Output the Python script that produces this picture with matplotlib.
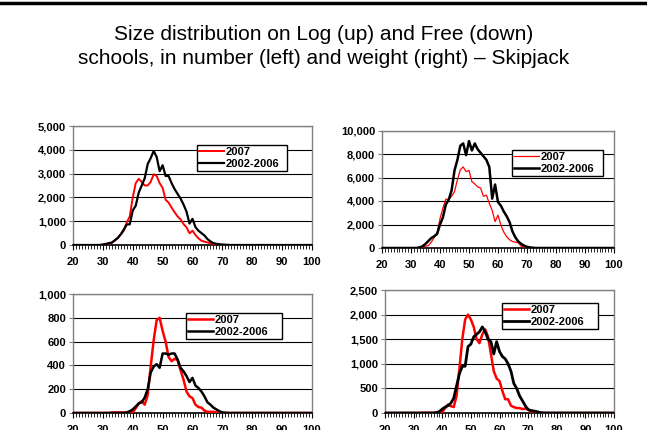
import numpy as np
import matplotlib.pyplot as plt
from matplotlib.ticker import MultipleLocator, FuncFormatter

plt.rcParams['font.family'] = ['Liberation Sans', 'DejaVu Sans']

# size classes (cm)
sizes = np.arange(20, 101)

# number, log schools (start size 30)
log_num_2007 = [20, 40, 60, 100, 180, 300, 450, 600, 950, 1200,
                2000, 2600, 2780, 2650, 2500, 2500, 2650, 2970, 2900, 2600,
                2400, 1900, 1780, 1570, 1380, 1200, 1080, 880, 740, 490,
                600, 420, 280, 180, 140, 110, 70, 40, 20, 10]
log_num_avg = [20, 40, 80, 100, 200, 300, 450, 650, 860, 870,
               1450, 1650, 2200, 2500, 2800, 3400, 3650, 3950, 3700, 3100,
               3350, 2900, 2900, 2600, 2350, 2150, 1950, 1700, 1400, 900,
               1100, 750, 600, 500, 400, 250, 150, 80, 50, 30,
               20, 10, 5]

# weight, log schools (start size 31)
log_wt_2007 = [20, 40, 60, 100, 150, 200, 500, 900, 1300,
               2500, 3400, 4150, 4150, 4400, 4800, 5800, 6650, 6900, 6500,
               6600, 5650, 5450, 5200, 5100, 4400, 4500, 3800, 3200, 2250,
               2800, 1950, 1350, 950, 700, 550, 500, 450, 150, 100,
               50]
log_wt_avg = [0, 0, 50, 150, 350, 600, 850, 1000, 1200,
              2000, 2600, 3700, 4100, 4900, 6600, 7500, 8700, 8900, 7900,
              9100, 8300, 8900, 8400, 8100, 7800, 7500, 6900, 4200, 5400,
              3900, 3600, 3100, 2700, 2200, 1400, 900, 550, 350, 200,
              100, 50, 20]

# number, free schools (start size 33)
free_num_2007 = [5, 5, 5, 5, 5, 5, 5,
                 5, 40, 80, 100, 70, 150, 390, 610, 780, 800,
                 690, 600, 470, 435, 455, 445, 360, 280, 180, 140,
                 125, 70, 50, 45, 20, 10, 10, 10, 5]
free_num_avg = [0, 0, 0, 0, 0, 5, 15,
                30, 55, 80, 90, 130, 200, 340, 390, 410, 380,
                500, 500, 490, 500, 500, 450, 380, 350, 310, 260,
                295, 230, 210, 180, 140, 90, 70, 45, 30, 15,
                5, 2]

# weight, free schools (start size 33)
free_wt_2007 = [5, 5, 5, 5, 5, 5, 5,
                20, 100, 170, 140, 120, 350, 900, 1500, 1900, 2000,
                1900, 1750, 1500, 1420, 1600, 1700, 1550, 1200, 850, 700,
                650, 450, 280, 280, 150, 120, 100, 100, 80, 90,
                70, 30, 15, 5]
free_wt_avg = [0, 0, 0, 0, 0, 10, 30,
               80, 120, 150, 200, 300, 550, 800, 950, 950, 1350,
               1400, 1550, 1600, 1650, 1750, 1650, 1500, 1450, 1200, 1450,
               1250, 1150, 1100, 1000, 850, 600, 500, 350, 250, 150,
               70, 50, 40, 30, 10, 5]


def full(vals, start):
    y = np.zeros(len(sizes))
    i = start - 20
    y[i:i + len(vals)] = vals
    return y


panels = [
    # rect in pixels (left, top, right, bottom), series, ymax, ystep, widths, legend box
    ((73, 126, 312, 245), (log_num_2007, 30), (log_num_avg, 30), 5000, 1000, (1.4, 1.6), (197, 143, 287, 171)),
    ((382, 130.5, 614, 248), (log_wt_2007, 31), (log_wt_avg, 31), 10000, 2000, (0.9, 1.8), (512, 144, 603, 176)),
    ((73, 294, 312, 413), (free_num_2007, 33), (free_num_avg, 33), 1000, 200, (1.8, 1.8), (186, 308, 282, 339)),
    ((385, 290, 614, 413), (free_wt_2007, 33), (free_wt_avg, 33), 2500, 500, (1.8, 2.0), (502, 298, 598, 329)),
]

W, H = 647, 430
fig = plt.figure(figsize=(W / 100, H / 100), dpi=100)

for rect, red, blk, ymax, ystep, lws, leg in panels:
    l, t, r, b = rect
    ax = fig.add_axes([l / W, 1 - b / H, (r - l) / W, (b - t) / H])
    ax.plot(sizes, full(*red), color='#ff0000', lw=lws[0], label='2007', zorder=3)
    ax.plot(sizes, full(*blk), color='black', lw=lws[1], label='2002-2006', zorder=3)
    ax.set_xlim(20, 100)
    ax.set_ylim(0, ymax)
    ax.xaxis.set_major_locator(MultipleLocator(10))
    ax.xaxis.set_minor_locator(MultipleLocator(1))
    ax.yaxis.set_major_locator(MultipleLocator(ystep))
    ax.yaxis.set_major_formatter(FuncFormatter(lambda v, p: f'{int(v):,}'))
    ax.grid(axis='y', color='black', lw=0.8, zorder=1)
    ax.set_axisbelow(True)
    for s in ('top', 'right', 'left'):
        ax.spines[s].set_color('#808080')
        ax.spines[s].set_linewidth(1.0)
    ax.spines['bottom'].set_color('black')
    ax.spines['bottom'].set_linewidth(1.2)
    ax.tick_params(axis='x', which='major', direction='out', length=3.5, width=0.8,
                   labelsize=8, pad=5)
    ax.tick_params(axis='x', which='minor', direction='out', length=3, width=0.6)
    ax.tick_params(axis='y', direction='out', length=3, width=0.8, color='#808080',
                   labelsize=8, pad=2)
    for lab in ax.get_xticklabels() + ax.get_yticklabels():
        lab.set_fontweight('bold')
    lx0, ly0, lx1, ly1 = leg
    lg = ax.legend(loc='lower left',
                   bbox_to_anchor=((lx0 - l) / (r - l), (b - ly1) / (b - t),
                                   (lx1 - lx0) / (r - l), (ly1 - ly0) / (b - t)),
                   mode='expand', frameon=True, fancybox=False, framealpha=1,
                   edgecolor='black', borderpad=0.2, labelspacing=0.15,
                   handlelength=2.2, handletextpad=0.2, borderaxespad=0,
                   prop={'weight': 'bold', 'size': 8})
    lg.get_frame().set_linewidth(1.0)

# rule across the top
fig.add_artist(plt.Line2D([0, 1], [1 - 2.5 / H, 1 - 2.5 / H], color='black', lw=2.5))

fig.text(0.5, 1 - 35 / H, 'Size distribution on Log (up) and Free (down)',
         ha='center', va='center', fontsize=15)
fig.text(0.5, 1 - 59 / H, 'schools, in number (left) and weight (right) \u2013 Skipjack',
         ha='center', va='center', fontsize=15)

fig.savefig('out.png', dpi=100)
